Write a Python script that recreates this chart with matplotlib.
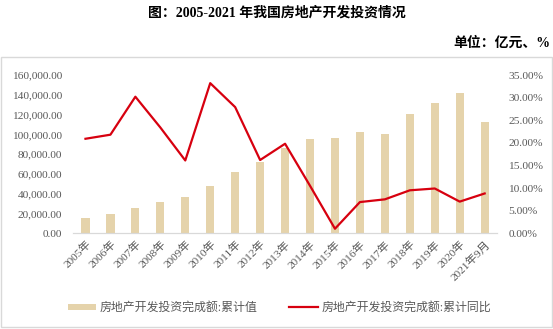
import numpy as np
import matplotlib
matplotlib.use('Agg')
import matplotlib.pyplot as plt
import matplotlib.patches as patches
from matplotlib.ticker import FuncFormatter, MultipleLocator

plt.rcParams['font.family'] = ['Liberation Serif', 'Noto Sans CJK SC', 'DejaVu Sans']

categories = ['2005年', '2006年', '2007年', '2008年', '2009年', '2010年', '2011年',
              '2012年', '2013年', '2014年', '2015年', '2016年', '2017年', '2018年',
              '2019年', '2020年', '2021年9月']
invest_total = [15909, 19423, 25289, 31203, 36242, 48259, 61797, 71804, 86013,
                95036, 95979, 102581, 100387, 120264, 132194, 141443, 112580]
invest_yoy = [20.9, 21.8, 30.2, 23.4, 16.1, 33.2, 27.9, 16.2, 19.8,
              10.5, 1.0, 6.9, 7.5, 9.5, 9.9, 7.0, 8.8]

bar_label = '房地产开发投资完成额:累计值'
line_label = '房地产开发投资完成额:累计同比'

bar_color = '#E5D3AB'
line_color = '#D7000F'
text_color = '#595959'

fig = plt.figure(figsize=(5.53, 3.29), dpi=100)

# light frame around chart body
frame = patches.Rectangle((0.002, 0.006), 0.996, 0.82, transform=fig.transFigure,
                          fill=False, edgecolor='#D9D9D9', linewidth=1.0)
fig.patches.append(frame)

fig.text(0.50, 0.96, '图：2005-2021 年我国房地产开发投资情况', ha='center', va='center',
         fontsize=10, fontweight='bold', color='black')
fig.text(0.995, 0.868, '单位：亿元、%', ha='right', va='center',
         fontsize=10, fontweight='bold', color='black')

ax = fig.add_axes([0.132, 0.291, 0.767, 0.481])
x = np.arange(len(categories))
ax.bar(x, invest_total, width=0.33, color=bar_color, label=bar_label, zorder=2)
ax.set_xlim(-0.5, len(categories) - 0.5)
ax.set_ylim(0, 160000)
ax.yaxis.set_major_locator(MultipleLocator(20000))
ax.yaxis.set_major_formatter(FuncFormatter(lambda v, p: '{:,.2f}'.format(v)))

ax2 = ax.twinx()
ax2.plot(x, invest_yoy, color=line_color, linewidth=1.6, label=line_label, zorder=3)
ax2.set_ylim(0, 35)
ax2.yaxis.set_major_locator(MultipleLocator(5))
ax2.yaxis.set_major_formatter(FuncFormatter(lambda v, p: '{:.2f}%'.format(v)))

for a in (ax, ax2):
    for s in ['top', 'left', 'right']:
        a.spines[s].set_visible(False)
    a.spines['bottom'].set_color('#D9D9D9')
    a.tick_params(length=0, labelsize=8.2, colors=text_color)

ax.tick_params(axis='y', pad=8)
ax2.tick_params(axis='y', pad=8)
ax.set_xticks(x)
ax.set_xticklabels(categories, rotation=45, ha='right', va='top',
                   rotation_mode='anchor', fontsize=8.2, color=text_color)
ax.tick_params(axis='x', pad=4)

h1, l1 = ax.get_legend_handles_labels()
h2, l2 = ax2.get_legend_handles_labels()
fig.legend(h1 + h2, l1 + l2, loc='center', bbox_to_anchor=(0.505, 0.063), ncol=2,
           frameon=False, fontsize=8.6, handlelength=2.4, handleheight=0.5,
           columnspacing=2.6, handletextpad=0.3, labelcolor=text_color)

fig.savefig('out.png', dpi=100)
